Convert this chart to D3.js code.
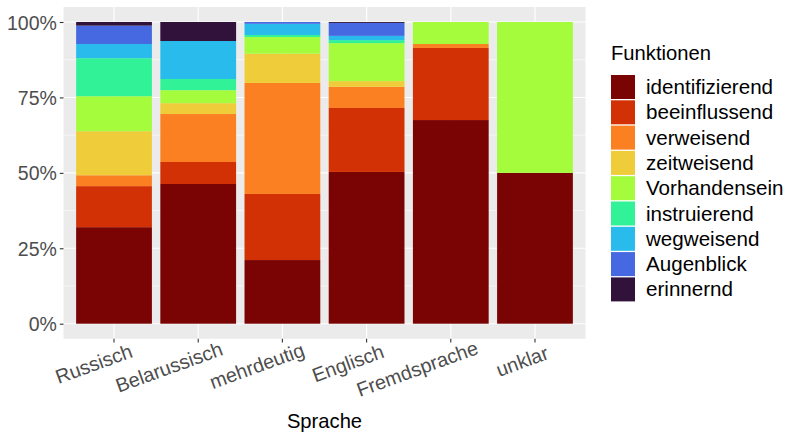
<!DOCTYPE html>
<html><head><meta charset="utf-8">
<script src="https://cdn.jsdelivr.net/npm/d3@7"></script>
<style>body{margin:0;background:#fff}svg{display:block}text{font-family:"Liberation Sans",Arial,sans-serif}</style>
</head><body><svg id="c" width="787" height="433"></svg>
<script>
const categories = ["Russisch","Belarussisch","mehrdeutig","Englisch","Fremdsprache","unklar"];
const functions = ["identifizierend","beeinflussend","verweisend","zeitweisend","Vorhandensein","instruierend","wegweisend","Augenblick","erinnernd"];
const colors = ["#7A0403","#D23105","#FB8022","#EFCD3A","#A4FC3C","#32F298","#28BBEC","#4668E0","#30123B"];
const identifizierend = [32.0, 46.3, 21.1, 50.3, 67.5, 50];
const beeinflussend   = [13.6, 7.3, 21.9, 21.2, 23.9, 0];
const verweisend      = [3.6, 15.9, 36.8, 7.0, 1.3, 0];
const zeitweisend     = [14.6, 3.6, 9.7, 1.9, 0, 0];
const Vorhandensein   = [11.6, 4.3, 5.5, 12.6, 7.3, 50];
const instruierend    = [12.6, 3.7, 0.7, 1.0, 0, 0];
const wegweisend      = [4.7, 12.6, 3.7, 1.4, 0, 0];
const Augenblick      = [6.1, 0, 0.6, 4.3, 0, 0];
const erinnernd       = [1.2, 6.3, 0, 0.3, 0, 0];
const yTicks = [0, 25, 50, 75, 100];
const yTickLabels = ["0%","25%","50%","75%","100%"];

const series = {identifizierend, beeinflussend, verweisend, zeitweisend, Vorhandensein, instruierend, wegweisend, Augenblick, erinnernd};
const rows = categories.map((c,i)=>{const r={cat:c}; functions.forEach(f=>r[f]=series[f][i]); return r;});

const svg = d3.select("#c");
const L = 63.5, R = 585.5;
const x = d3.scaleBand().domain(categories).range([L,R]).paddingInner(0.1).paddingOuter(0.15);
const y = d3.scaleLinear().domain([0,100]).range([323.7,22]);
const yTop = y(105), yBot = y(-5);
const color = d3.scaleOrdinal().domain(functions).range(colors);

// panel
svg.append("rect").attr("x",L).attr("y",yTop).attr("width",R-L).attr("height",yBot-yTop).attr("fill","#EBEBEB");
// minor grid
[12.5,37.5,62.5,87.5].forEach(v=>svg.append("line").attr("x1",L).attr("x2",R).attr("y1",y(v)).attr("y2",y(v)).attr("stroke","#fff").attr("stroke-width",0.55));
yTicks.forEach(v=>svg.append("line").attr("x1",L).attr("x2",R).attr("y1",y(v)).attr("y2",y(v)).attr("stroke","#fff").attr("stroke-width",1.1));
categories.forEach(c=>{const cx=x(c)+x.bandwidth()/2; svg.append("line").attr("x1",cx).attr("x2",cx).attr("y1",yTop).attr("y2",yBot).attr("stroke","#fff").attr("stroke-width",1.1);});

// bars
const stack = d3.stack().keys(functions)(rows);
svg.append("g").selectAll("g").data(stack).join("g").attr("fill",d=>color(d.key))
  .selectAll("rect").data(d=>d).join("rect")
  .attr("x",d=>x(d.data.cat)).attr("width",x.bandwidth())
  .attr("y",d=>y(d[1])).attr("height",d=>Math.max(0,y(d[0])-y(d[1])));

// y axis
const ya = svg.append("g").attr("transform",`translate(${L},0)`).call(d3.axisLeft(y).tickValues(yTicks).tickFormat((d,i)=>yTickLabels[i]).tickSize(3.7).tickPadding(3));
ya.select(".domain").remove();
ya.selectAll(".tick line").attr("stroke","#333").attr("stroke-width",1.1);
ya.selectAll(".tick text").attr("fill","#4D4D4D").attr("font-size","19.5px").attr("dy","0.36em");

// x axis
const xa = svg.append("g").attr("transform",`translate(0,${yBot})`).call(d3.axisBottom(x).tickSize(3.7).tickFormat(""));
xa.select(".domain").remove();
xa.selectAll(".tick line").attr("stroke","#333").attr("stroke-width",1.1);
categories.forEach(c=>{
  const cx = x(c)+x.bandwidth()/2;
  const g = svg.append("g").attr("transform",`translate(${cx},349) rotate(-20)`);
  const t = g.append("text").text(c).attr("fill","#4D4D4D").attr("font-size","19.8px").attr("y",14);
  const len = t.node().getComputedTextLength();
  t.attr("x",-0.8*len);
});
svg.append("text").text("Sprache").attr("x",(L+R)/2).attr("y",428).attr("text-anchor","middle").attr("font-size","20.2px").attr("fill","#000");

// legend
svg.append("text").text("Funktionen").attr("x",611).attr("y",60).attr("font-size","20.2px").attr("fill","#000");
functions.forEach((f,i)=>{
  const ky = 75 + i*25.3;
  svg.append("rect").attr("x",611).attr("y",ky).attr("width",24).attr("height",24).attr("fill",color(f));
  svg.append("text").text(f).attr("x",646).attr("y",ky+19).attr("font-size","20.6px").attr("fill","#000");
});
</script></body></html>
